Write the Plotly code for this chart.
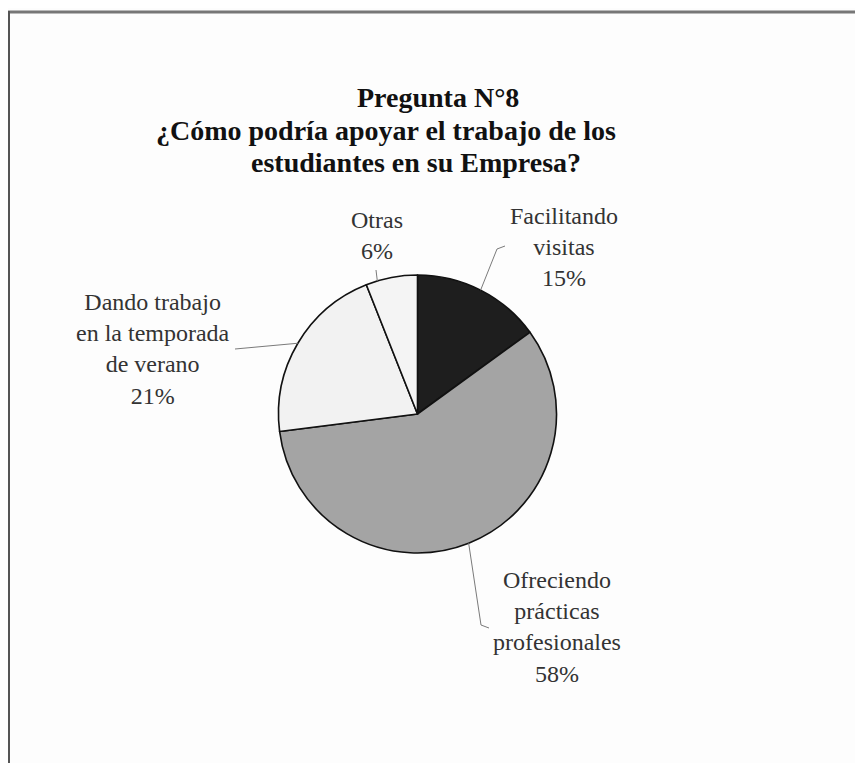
import math
import plotly.graph_objects as go

# ---- data ----
categories = ["Facilitando<br>visitas", "Ofreciendo<br>prácticas<br>profesionales",
              "Dando trabajo<br>en la temporada<br>de verano", "Otras"]
values = [15, 58, 21, 6]
colors = ["#1e1e1e", "#a4a4a4", "#f2f2f2", "#f4f4f4"]
title_lines = ["Pregunta N°8", "¿Cómo podría apoyar el trabajo de los", "estudiantes en su Empresa?"]

OFF = 8  # page body margin
W, H = 863 - 2 * OFF, 771 - 2 * OFF
CX, CY, R = 417.5, 414, 139
SERIF = "Liberation Serif, Times New Roman, serif"


def px(x):
    return (x - OFF) / W


def py(y):
    return 1 - (y - OFF) / H


fig = go.Figure(go.Pie(
    labels=categories, values=values, sort=False, direction="clockwise", rotation=0,
    marker=dict(colors=colors, line=dict(color="#111111", width=1.6)),
    textinfo="none", hoverinfo="label+percent",
    domain=dict(x=[px(CX - R), px(CX + R)], y=[py(CY + R), py(CY - R)]),
    showlegend=False,
))

# label layout (pixel positions of label blocks and leader-line ends)
label_pos = [(564, 247), (557, 627), (153, 349), (377, 235)]
leader_end = [[(497, 249), (505, 246)], [(481, 625), (489, 628)], [(235, 349)], [(376, 270)]]
leader_start_angle_offset = [0, 0, 0, -6]

total = sum(values)
cum = 0
annotations = []
shapes = []
for i, (lab, v) in enumerate(zip(categories, values)):
    pct = round(100 * v / total)
    mid = (cum + v / 2) / total * 360 + leader_start_angle_offset[i]
    cum += v
    sx = CX + R * math.sin(math.radians(mid))
    sy = CY - R * math.cos(math.radians(mid))
    pts = [(sx, sy)] + leader_end[i]
    path = "M " + " L ".join(f"{px(x)},{py(y)}" for x, y in pts)
    shapes.append(dict(type="path", xref="paper", yref="paper", path=path,
                       line=dict(color="#7a7a7a", width=1)))
    lx, ly = label_pos[i]
    annotations.append(dict(x=px(lx), y=py(ly), xref="paper", yref="paper",
                            text=f"{lab}<br>{pct}%", showarrow=False, align="center",
                            xanchor="center", yanchor="middle",
                            font=dict(family=SERIF, size=24, color="#333333")))

title_pos = [(438, 98), (386, 130), (416, 163)]
for t, (tx, ty) in zip(title_lines, title_pos):
    annotations.append(dict(x=px(tx), y=py(ty), xref="paper", yref="paper", text=f"<b>{t}</b>",
                            showarrow=False, xanchor="center", yanchor="middle",
                            font=dict(family=SERIF, size=28, color="#111111")))

# frame
shapes.append(dict(type="line", xref="paper", yref="paper", x0=px(7), x1=1.02,
                   y0=py(12), y1=py(12), line=dict(color="#777777", width=3)))
shapes.append(dict(type="line", xref="paper", yref="paper", x0=px(9), x1=px(9),
                   y0=py(11), y1=-0.02, line=dict(color="#555555", width=2)))

fig.update_layout(
    width=W, height=H, margin=dict(l=0, r=0, t=0, b=0),
    paper_bgcolor="#fdfdfd", plot_bgcolor="#fdfdfd",
    annotations=annotations, shapes=shapes,
)
fig.write_html("out.html")
